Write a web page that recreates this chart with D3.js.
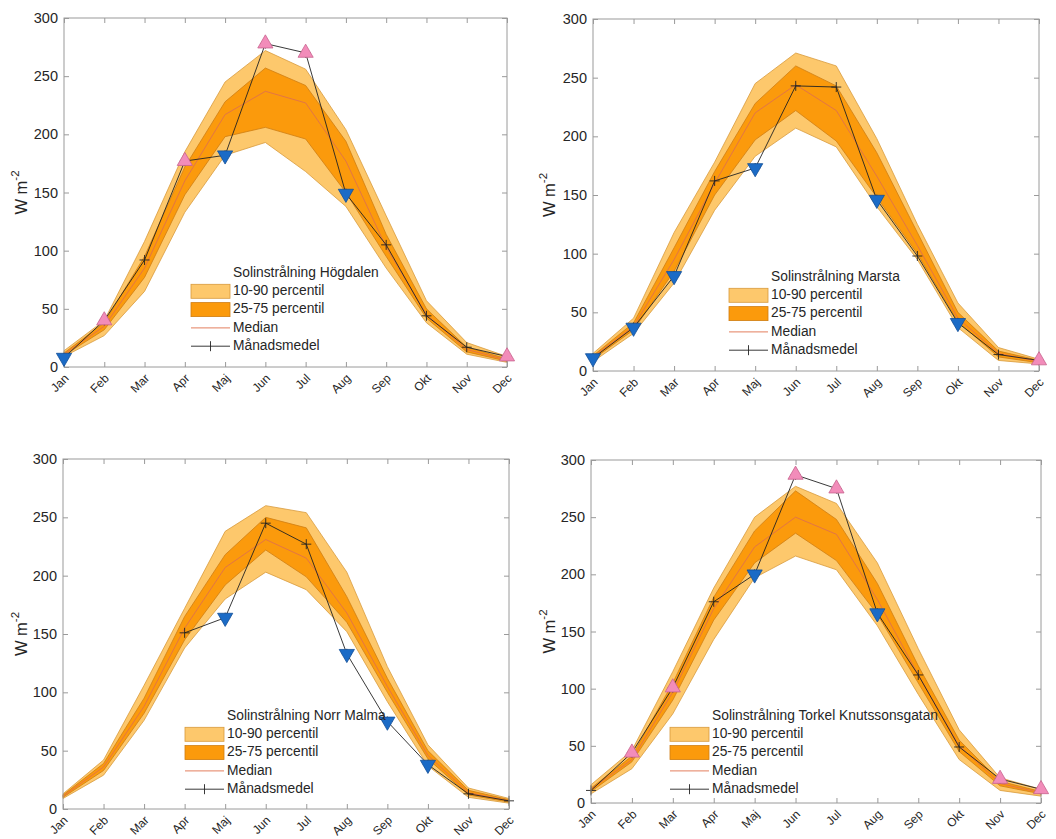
<!DOCTYPE html>
<html>
<head>
<meta charset="utf-8">
<script src="https://cdn.jsdelivr.net/npm/d3@7"></script>
<style>
  body { margin: 0; background: #fff; }
  svg { font-family: "Liberation Sans", Arial, sans-serif; }
</style>
</head>
<body>
<div id="chart"></div>
<script>
// Monthly solar radiation, four stations

const months = ["Jan", "Feb", "Mar", "Apr", "Maj", "Jun", "Jul", "Aug", "Sep", "Okt", "Nov", "Dec"];
const yTicks = [0, 50, 100, 150, 200, 250, 300];

// Högdalen
const hogP10 = [9, 27, 65, 133, 182, 193, 168, 138, 85, 38, 11, 4];
const hogP25 = [10, 32, 77, 148, 198, 206, 196, 150, 95, 42, 13, 5];
const hogMed = [11, 35, 85, 160, 217, 237, 227, 177, 103, 45, 15, 6];
const hogP75 = [12, 38, 95, 172, 228, 257, 242, 194, 114, 50, 17, 7];
const hogP90 = [14, 40, 108, 185, 245, 272, 256, 204, 130, 57, 21, 9];
const hogMean = [8, 40, 92, 177, 182, 278, 270, 149, 105, 44, 17, 9];
const hogMarks = ["down", "up", "", "up", "down", "up", "up", "down", "", "", "", "up"];

// Marsta
const marP10 = [8, 32, 75, 137, 183, 207, 191, 140, 95, 37, 9, 6];
const marP25 = [10, 35, 85, 150, 197, 222, 196, 148, 100, 42, 12, 7];
const marMed = [12, 38, 95, 160, 220, 244, 222, 166, 107, 45, 15, 8];
const marP75 = [13, 41, 105, 170, 228, 260, 243, 186, 118, 50, 17, 9];
const marP90 = [15, 45, 118, 178, 245, 271, 260, 198, 125, 58, 20, 10];
const marMean = [11, 37, 81, 162, 173, 243, 242, 146, 98, 41, 14, 9];
const marMarks = ["down", "down", "down", "", "down", "", "", "down", "", "down", "", "up"];

// Norr Malma
const nomP10 = [9, 29, 76, 138, 180, 203, 188, 152, 92, 37, 10, 5];
const nomP25 = [10, 33, 82, 145, 192, 222, 199, 160, 100, 43, 12, 6];
const nomMed = [11, 36, 88, 155, 207, 231, 215, 168, 105, 46, 14, 7];
const nomP75 = [12, 39, 95, 165, 218, 250, 241, 182, 112, 50, 16, 8];
const nomP90 = [13, 42, 106, 172, 238, 260, 254, 203, 122, 55, 18, 9];
const nomMean = [null, null, null, 151, 164, 245, 227, 133, 75, 38, 13, 7];
const nomMarks = ["", "", "", "", "down", "", "", "down", "down", "down", "", ""];

// Torkel Knutssonsgatan
const tkgP10 = [8, 30, 78, 143, 197, 216, 204, 155, 95, 38, 11, 6];
const tkgP25 = [10, 36, 90, 160, 210, 236, 212, 165, 105, 45, 15, 8];
const tkgMed = [12, 38, 97, 170, 224, 250, 235, 178, 112, 50, 17, 9];
const tkgP75 = [13, 41, 105, 180, 238, 273, 248, 192, 120, 55, 19, 10];
const tkgP90 = [16, 46, 115, 188, 250, 277, 262, 210, 135, 64, 22, 12];
const tkgMean = [11, 44, 101, 176, 200, 287, 275, 166, 112, 49, 21, 12];
const tkgMarks = ["", "up", "up", "", "down", "up", "up", "down", "", "", "up", "up"];

const stations = [
    { name: "Högdalen", p10: hogP10, p25: hogP25, med: hogMed, p75: hogP75, p90: hogP90, mean: hogMean, marks: hogMarks },
    { name: "Marsta", p10: marP10, p25: marP25, med: marMed, p75: marP75, p90: marP90, mean: marMean, marks: marMarks },
    { name: "Norr Malma", p10: nomP10, p25: nomP25, med: nomMed, p75: nomP75, p90: nomP90, mean: nomMean, marks: nomMarks },
    { name: "Torkel Knutssonsgatan", p10: tkgP10, p25: tkgP25, med: tkgMed, p75: tkgP75, p90: tkgP90, mean: tkgMean, marks: tkgMarks }
];

// panel frames and legend placement
const frames = [
    { left: 64, right: 507, top: 18, bottom: 367, labelX: 23, legX: 191, legY: 273 },
    { left: 593, right: 1039, top: 19, bottom: 371, labelX: 551, legX: 729, legY: 277 },
    { left: 63, right: 509, top: 459, bottom: 809, labelX: 23, legX: 185, legY: 716 },
    { left: 591, right: 1041, top: 460, bottom: 803, labelX: 551, legX: 670, legY: 716 }
];

const colLight = "#fdc86c", colLightEdge = "#d89a3c";
const colDark = "#fb9a0c", colDarkEdge = "#cf7d12";
const colMedian = "#e0704c";
const colFrame = "#9a9a9a";

const svg = d3.select("#chart").append("svg")
    .attr("width", 1056)
    .attr("height", 839);

function drawPanel(st, f) {
    const g = svg.append("g");

    const x = d3.scalePoint().domain(months).range([f.left, f.right]);
    const y = d3.scaleLinear().domain([0, 300]).range([f.bottom, f.top]);

    const rows = months.map((m, i) => ({
        m, p10: st.p10[i], p25: st.p25[i], med: st.med[i],
        p75: st.p75[i], p90: st.p90[i], mean: st.mean[i], mark: st.marks[i]
    }));

    const band = (lo, hi) => d3.area()
        .x(d => x(d.m))
        .y0(d => y(d[lo]))
        .y1(d => y(d[hi]));

    g.append("path").datum(rows)
        .attr("d", band("p10", "p90"))
        .attr("fill", colLight)
        .attr("stroke", colLightEdge)
        .attr("stroke-width", 0.8);

    g.append("path").datum(rows)
        .attr("d", band("p25", "p75"))
        .attr("fill", colDark)
        .attr("stroke", colDarkEdge)
        .attr("stroke-width", 0.8);

    g.append("path").datum(rows)
        .attr("d", d3.line().x(d => x(d.m)).y(d => y(d.med)))
        .attr("fill", "none")
        .attr("stroke", colMedian)
        .attr("stroke-width", 0.9);

    const meanRows = rows.filter(d => d.mean != null);

    g.append("path").datum(meanRows)
        .attr("d", d3.line().x(d => x(d.m)).y(d => y(d.mean)))
        .attr("fill", "none")
        .attr("stroke", "#222")
        .attr("stroke-width", 0.9);

    g.selectAll(".plus")
        .data(meanRows)
        .enter().append("path")
        .attr("class", "plus")
        .attr("d", d => {
            const cx = x(d.m), cy = y(d.mean);
            return `M${cx - 5},${cy}H${cx + 5}M${cx},${cy - 5}V${cy + 5}`;
        })
        .attr("stroke", "#222")
        .attr("stroke-width", 0.9);

    // frame, ticks on all sides pointing in
    g.append("rect")
        .attr("x", f.left).attr("y", f.top)
        .attr("width", f.right - f.left).attr("height", f.bottom - f.top)
        .attr("fill", "none")
        .attr("stroke", colFrame)
        .attr("stroke-width", 1);

    g.append("g")
        .attr("transform", `translate(0,${f.bottom})`)
        .call(d3.axisBottom(x).tickSizeInner(-5).tickSizeOuter(0))
        .call(ax => ax.selectAll(".tick text")
            .attr("y", null)
            .attr("dy", null)
            .attr("text-anchor", "end")
            .attr("font-size", 12)
            .attr("fill", "#262626")
            .attr("transform", "translate(5,12) rotate(-45)"));

    g.append("g")
        .attr("transform", `translate(0,${f.top})`)
        .call(d3.axisTop(x).tickSizeInner(-5).tickSizeOuter(0).tickFormat(""));

    g.append("g")
        .attr("transform", `translate(${f.left},0)`)
        .call(d3.axisLeft(y).tickValues(yTicks).tickSizeInner(-5).tickSizeOuter(0).tickPadding(6))
        .call(ax => ax.selectAll(".tick text")
            .attr("font-size", 14.5)
            .attr("fill", "#262626"));

    g.append("g")
        .attr("transform", `translate(${f.right},0)`)
        .call(d3.axisRight(y).tickValues(yTicks).tickSizeInner(-5).tickSizeOuter(0).tickFormat(""));

    g.selectAll(".domain").remove();
    g.selectAll(".tick line").attr("stroke", colFrame);

    // y label
    const yl = g.append("text")
        .attr("transform", `translate(${f.labelX},${(f.top + f.bottom) / 2}) rotate(-90)`)
        .attr("text-anchor", "middle")
        .attr("dominant-baseline", "middle")
        .style("font-size", "16.5px")
        .attr("fill", "#262626");
    yl.append("tspan").text("W m");
    yl.append("tspan").attr("dy", -7).style("font-size", "11.5px").text("-2");

    // triangles on top
    const tri = d3.symbol().type(d3.symbolTriangle).size(100);
    g.selectAll(".mark")
        .data(rows.filter(d => d.mark && d.mean != null))
        .enter().append("path")
        .attr("class", "mark")
        .attr("d", tri)
        .attr("transform", d => `translate(${x(d.m)},${y(d.mean)}) rotate(${d.mark === "up" ? 0 : 180})`)
        .attr("fill", d => d.mark === "up" ? "#f28cba" : "#1b6bc6")
        .attr("stroke", d => d.mark === "up" ? "#c8638e" : "#134f98")
        .attr("stroke-width", 0.8);

    // legend
    const leg = g.append("g").style("font-size", "13.8px").attr("fill", "#262626");
    const tx = f.legX + 42;
    leg.append("text")
        .attr("x", tx).attr("y", f.legY)
        .attr("dominant-baseline", "middle")
        .text("Solinstrålning " + st.name);

    const items = [
        { label: "10-90 percentil", kind: "patch", fill: colLight, edge: colLightEdge },
        { label: "25-75 percentil", kind: "patch", fill: colDark, edge: colDarkEdge },
        { label: "Median", kind: "line", stroke: colMedian },
        { label: "Månadsmedel", kind: "plus", stroke: "#222" }
    ];
    items.forEach((it, i) => {
        const cy = f.legY + 18.3 * (i + 1);
        if (it.kind === "patch") {
            leg.append("rect")
                .attr("x", f.legX).attr("y", cy - 7)
                .attr("width", 39).attr("height", 14)
                .attr("fill", it.fill).attr("stroke", it.edge).attr("stroke-width", 0.8);
        } else {
            leg.append("line")
                .attr("x1", f.legX).attr("x2", f.legX + 39)
                .attr("y1", cy).attr("y2", cy)
                .attr("stroke", it.stroke).attr("stroke-width", 0.9);
            if (it.kind === "plus") {
                leg.append("line")
                    .attr("x1", f.legX + 19.5).attr("x2", f.legX + 19.5)
                    .attr("y1", cy - 5).attr("y2", cy + 5)
                    .attr("stroke", it.stroke).attr("stroke-width", 0.9);
            }
        }
        leg.append("text")
            .attr("x", tx).attr("y", cy)
            .attr("dominant-baseline", "middle")
            .text(it.label);
    });
}

stations.forEach((st, i) => drawPanel(st, frames[i]));
</script>
</body>
</html>
